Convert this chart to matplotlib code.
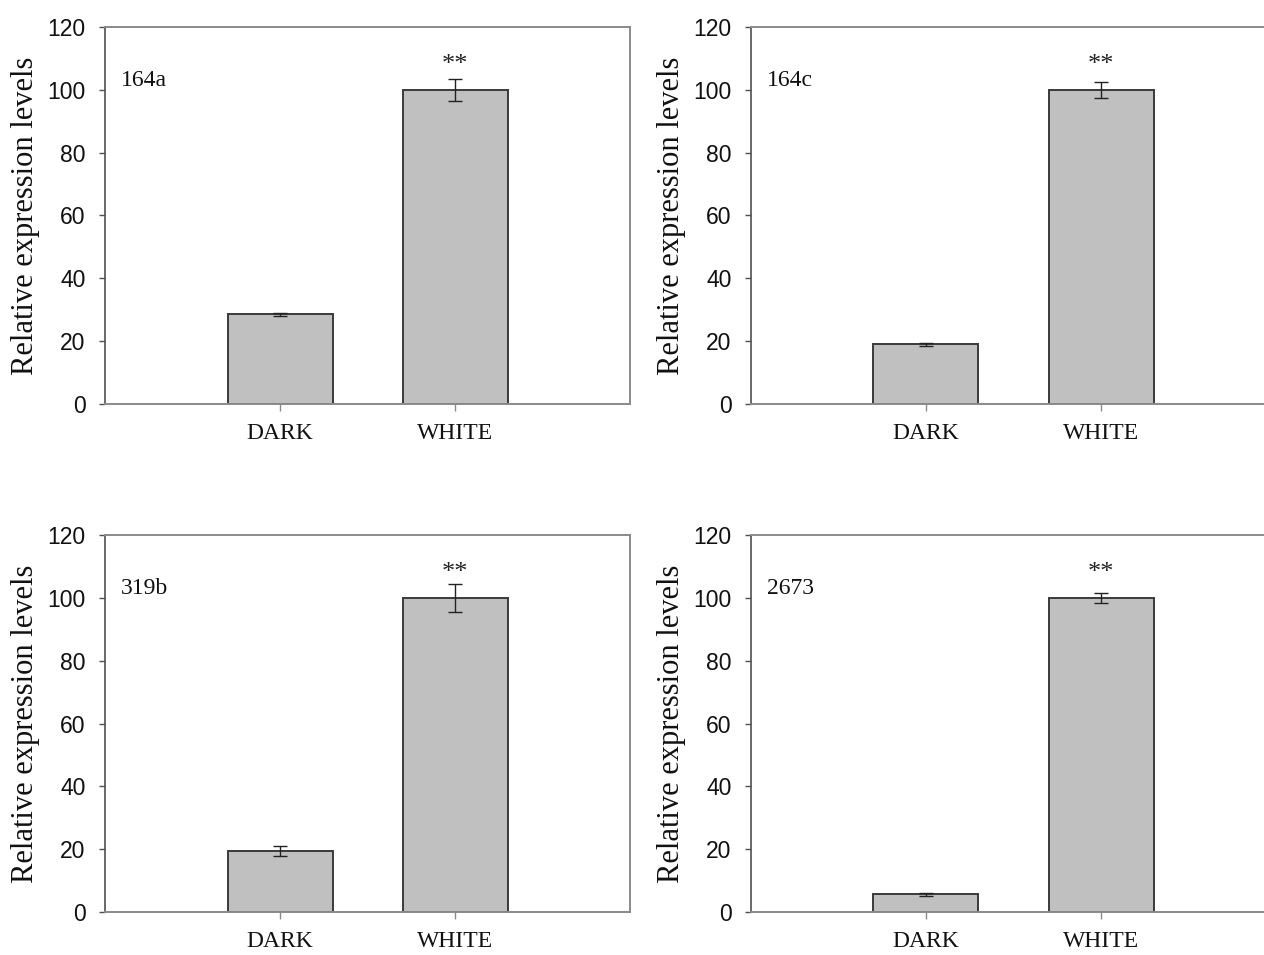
import matplotlib
matplotlib.use("Agg")
import matplotlib.pyplot as plt
import numpy as np

# ---- data ------------------------------------------------------------------
CATEGORIES = ["DARK", "WHITE"]
PANELS     = ["164a", "164c", "319b", "2673"]
DARK_MEAN  = [28.5, 19.0, 19.5, 5.6]
DARK_ERR   = [0.5, 0.4, 1.6, 0.6]
WHITE_MEAN = [100.0, 100.0, 100.0, 100.0]
WHITE_ERR  = [3.5, 2.5, 4.5, 1.5]
SIG_MARK   = "**"
Y_TICKS    = [0, 20, 40, 60, 80, 100, 120]

SERIF = ["Liberation Serif", "DejaVu Serif"]
SANS  = ["Liberation Sans", "DejaVu Sans"]

BAR_FILL  = "#C0C0C0"
BAR_EDGE  = "#3A3A3A"
SPINE_DRK = "#505050"
SPINE_LT  = "#8A8A8A"

fig = plt.figure(figsize=(12.64, 9.55), dpi=100)
fig.patch.set_facecolor("white")

# axes boxes in figure fractions (right column runs off the page, as in the scan)
W, H = 525 / 1264, 377 / 955
boxes = [
    (105 / 1264, 1 - 404 / 955, W, H),
    (751 / 1264, 1 - 404 / 955, W, H),
    (105 / 1264, 1 - 912 / 955, W, H),
    (751 / 1264, 1 - 912 / 955, W, H),
]

x = np.arange(1, len(CATEGORIES) + 1)

for i, name in enumerate(PANELS):
    ax = fig.add_axes(boxes[i])
    means = [DARK_MEAN[i], WHITE_MEAN[i]]
    errs  = [DARK_ERR[i], WHITE_ERR[i]]
    ax.bar(x, means, 0.6, color=BAR_FILL, edgecolor=BAR_EDGE, linewidth=1.4,
           zorder=2)
    ax.errorbar(x, means, yerr=errs, fmt="none", ecolor="#222222",
                elinewidth=1.0, capsize=5, capthick=1.0, zorder=3)

    ax.text(x[1], WHITE_MEAN[i] + 8, SIG_MARK, ha="center", va="center",
            fontsize=19, family=SERIF, color="#222222")
    ax.text(0.09, 103, name, ha="left", va="center", fontsize=17,
            family=SERIF, color="#111111")

    ax.set_xlim(0, 3)
    ax.set_ylim(0, 120)
    ax.set_yticks(Y_TICKS)
    ax.set_yticklabels([str(t) for t in Y_TICKS], family=SANS, fontsize=16.5,
                       color="#111111")
    ax.set_xticks(x)
    ax.set_xticklabels(CATEGORIES, family=SERIF, fontsize=17, color="#111111")
    ax.tick_params(axis="y", direction="out", length=4, width=1,
                   color=SPINE_DRK, pad=10)
    ax.tick_params(axis="x", direction="out", length=5, width=1,
                   color=SPINE_LT, pad=9)
    ax.set_ylabel("Relative expression levels", family=SERIF, fontsize=22,
                  color="#111111", labelpad=5)

    ax.spines["left"].set_color(SPINE_DRK)
    ax.spines["left"].set_linewidth(1.2)
    for s in ("top", "right", "bottom"):
        ax.spines[s].set_color(SPINE_LT)
        ax.spines[s].set_linewidth(1.4)

fig.savefig("out.png", dpi=100)
